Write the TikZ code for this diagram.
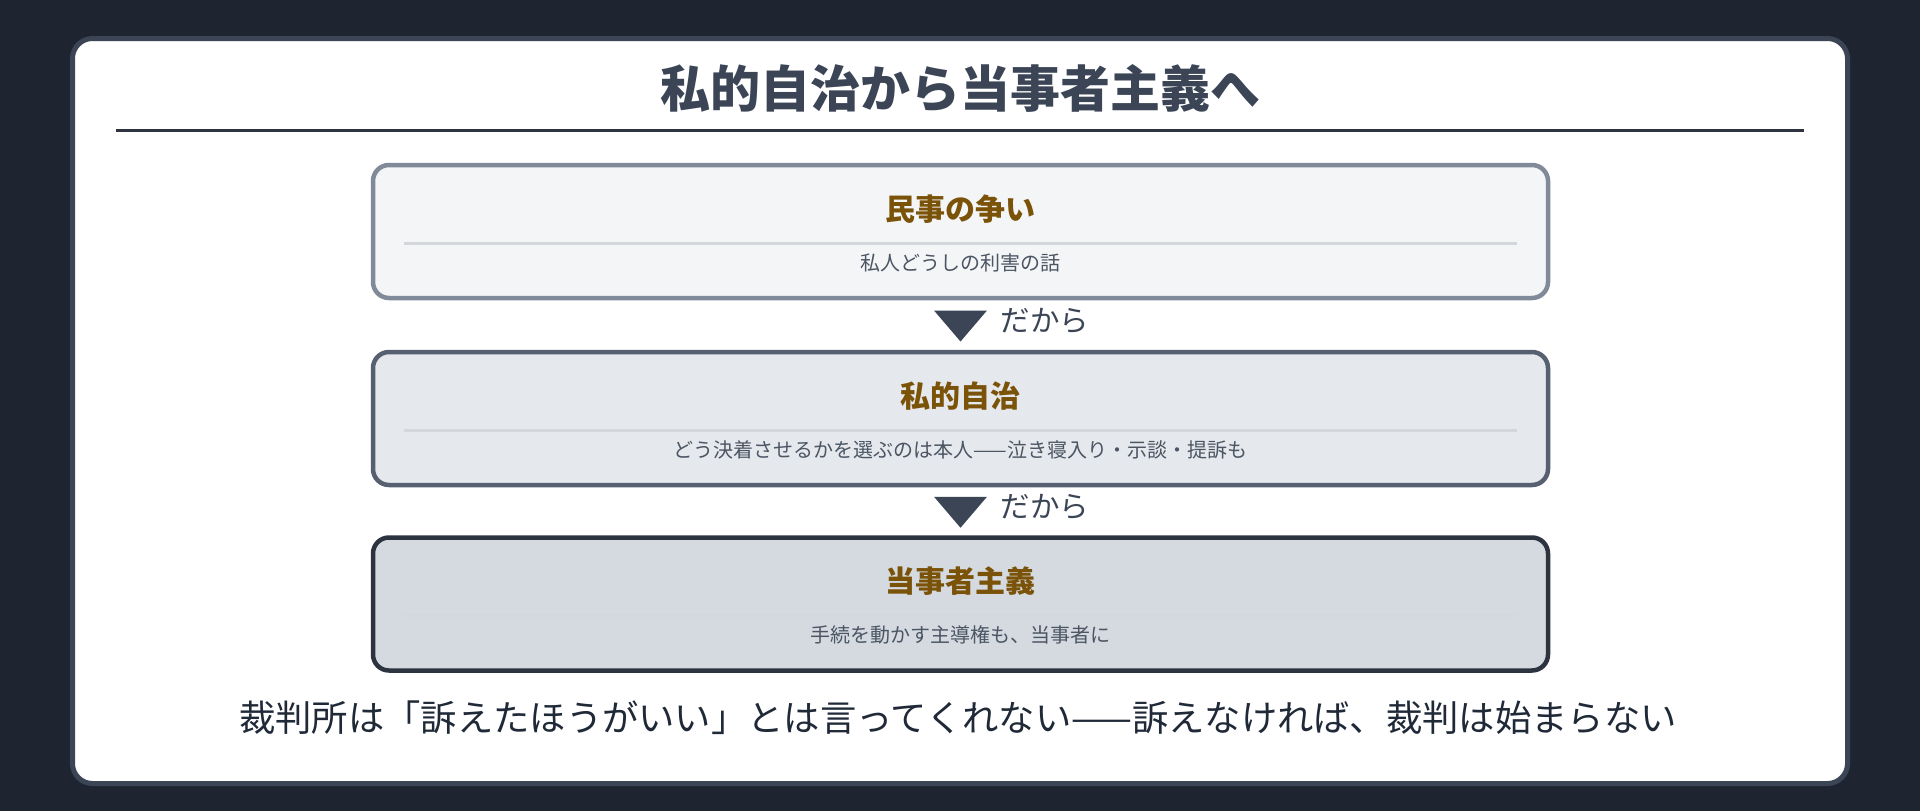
\documentclass[tikz,border=0pt]{standalone}
\usepackage{fontspec}
\setmainfont{Noto Sans CJK JP}
\usetikzlibrary{calc}

\definecolor{bgdark}{RGB}{30,37,48}
\definecolor{cardedge}{RGB}{59,69,86}
\definecolor{ruledark}{RGB}{45,52,64}
\definecolor{titlebrown}{RGB}{122,82,8}
\definecolor{subgray}{RGB}{75,85,99}
\definecolor{sepgray}{RGB}{211,214,219}
\definecolor{textdark}{RGB}{31,41,55}
\definecolor{edgeone}{RGB}{128,138,153}
\definecolor{fillone}{RGB}{244,245,247}
\definecolor{edgetwo}{RGB}{87,96,112}
\definecolor{filltwo}{RGB}{229,232,236}
\definecolor{edgethree}{RGB}{45,52,64}
\definecolor{fillthree}{RGB}{213,218,225}

\begin{document}
\begin{tikzpicture}[x=1pt,y=-1pt,
		box/.style={draw, line width=4.5pt, rounded corners=16pt, minimum width=1175pt, minimum height=133pt, inner sep=0pt},
		boxtitle/.style={font=\fontsize{30}{30}\selectfont\bfseries, text=titlebrown, inner sep=0pt},
		boxsub/.style={font=\fontsize{20}{20}\selectfont, text=subgray, inner sep=0pt},
		sepline/.style={draw=sepgray, line width=3pt},
		downtri/.style={fill=cardedge},
		because/.style={font=\fontsize{29.5}{29.5}\selectfont, text=cardedge, anchor=west, inner sep=0pt}]
	\useasboundingbox (0,0) rectangle (1920,811);
	\fill[bgdark] (0,0) rectangle (1920,811);
	\draw[draw=cardedge, fill=white, line width=5pt, rounded corners=20pt] (72.5,38.5) rectangle (1847.5,783.5);

	% heading and rule
	\node[font=\fontsize{50}{50}\selectfont\bfseries, text=cardedge, inner sep=0pt] (heading) at (960,88) {私的自治から当事者主義へ};
	\draw[ruledark, line width=3pt] (116,130) -- (1804,130);

	% the three steps
	\node[box, draw=edgeone, fill=fillone] (civil) at (960.5,231.5) {};
	\node[box, draw=edgetwo, fill=filltwo] (autonomy) at (960.5,418.5) {};
	\node[box, draw=edgethree, fill=fillthree] (adversarial) at (960.5,604) {};

	\node[boxtitle] (civilhead) at ($(civil.center)+(0,-22.5)$) {民事の争い};
	\draw[sepline] ($(civil.west)+(33,11.5)$) -- ($(civil.east)+(-33,11.5)$);
	\node[boxsub] (civilsub) at ($(civil.center)+(0,31)$) {私人どうしの利害の話};

	\node[boxtitle] (autonomyhead) at ($(autonomy.center)+(0,-22.5)$) {私的自治};
	\draw[sepline] ($(autonomy.west)+(33,11.5)$) -- ($(autonomy.east)+(-33,11.5)$);
	\node[boxsub] (autonomysub) at ($(autonomy.center)+(0,31)$) {どう決着させるかを選ぶのは本人——泣き寝入り・示談・提訴も};

	\node[boxtitle] (adversarialhead) at ($(adversarial.center)+(0,-22.5)$) {当事者主義};
	\draw[sepline, draw=sepgray!60!fillthree] ($(adversarial.west)+(33,11.5)$) -- ($(adversarial.east)+(-33,11.5)$);
	\node[boxsub] (adversarialsub) at ($(adversarial.center)+(0,31)$) {手続を動かす主導権も、当事者に};

	% arrows between steps
	\coordinate (gapone) at ($(civil.south)!0.5!(autonomy.north)$);
	\coordinate (gaptwo) at ($(autonomy.south)!0.5!(adversarial.north)$);
	\fill[downtri] ($(gapone)+(-26.5,-14.5)$) -- ($(gapone)+(26.5,-14.5)$) -- ($(gapone)+(0,16.5)$) -- cycle;
	\fill[downtri] ($(gaptwo)+(-26.5,-14.5)$) -- ($(gaptwo)+(26.5,-14.5)$) -- ($(gaptwo)+(0,16.5)$) -- cycle;
	\node[because] (soone) at ($(gapone)+(40,-4)$) {だから};
	\node[because] (sotwo) at ($(gaptwo)+(40,-4)$) {だから};

	% closing line
	\node[font=\fontsize{36.3}{36.3}\selectfont, text=textdark, inner sep=0pt] (closing) at (958,718) {裁判所は「訴えたほうがいい」とは言ってくれない——訴えなければ、裁判は始まらない};
\end{tikzpicture}
\end{document}
